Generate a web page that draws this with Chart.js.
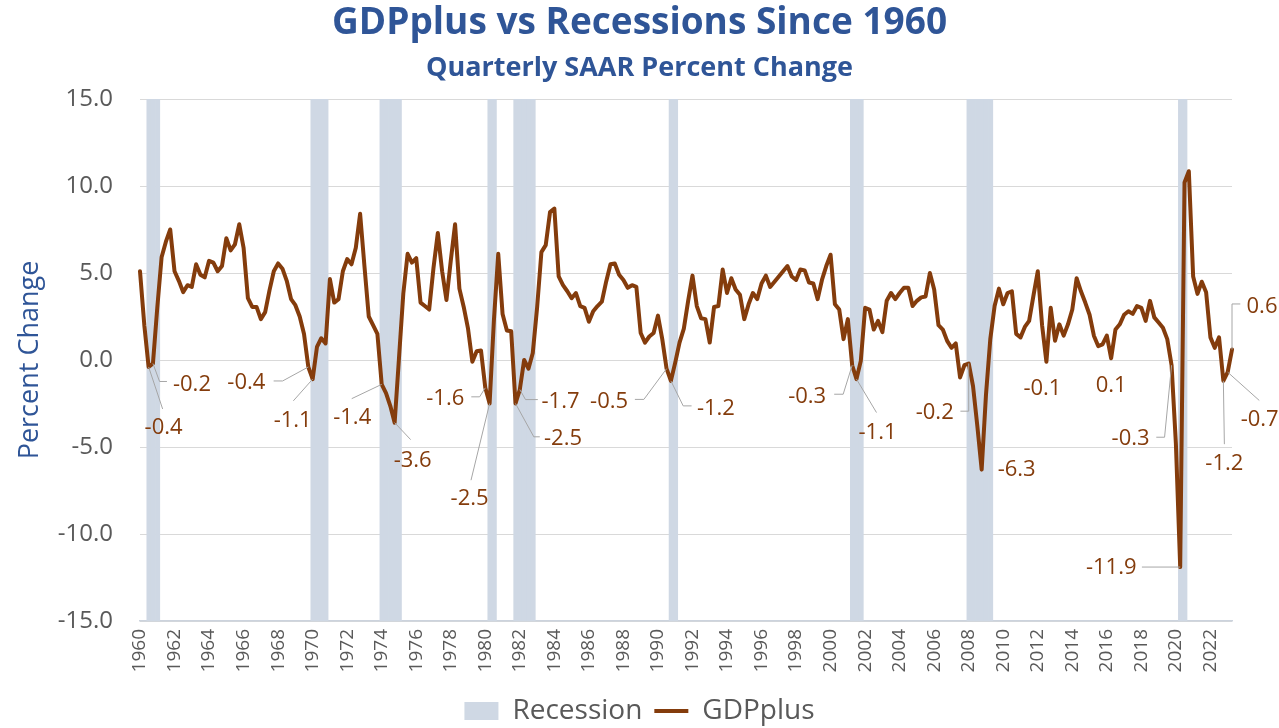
<!DOCTYPE html>
<html>
<head>
<meta charset="utf-8">
<title>GDPplus vs Recessions Since 1960</title>
<script src="https://cdn.jsdelivr.net/npm/chart.js@4.4.0/dist/chart.umd.min.js"></script>
<style>
  html, body { margin: 0; padding: 0; background: #fff; }
</style>
</head>
<body>
<canvas id="chart" width="1279" height="728"></canvas>
<script>
// 분기 라벨 (1960Q1 ~ 2023Q2)
const firstYear = 1960;
const quarterCount = 254;
const quarters = [];
for (let k = 0; k < quarterCount; k++) {
    quarters.push(`${firstYear + Math.floor(k / 4)}Q${k % 4 + 1}`);
}

// GDPplus 분기별 SAAR 변화율
const gdpplus = [
    5.1, 2.0, -0.4, -0.2, 3.0, 5.9, 6.8, 7.5, 5.1, 4.55,
    3.9, 4.3, 4.2, 5.5, 4.9, 4.75, 5.7, 5.6, 5.1, 5.4,
    7.0, 6.3, 6.65, 7.8, 6.45, 3.55, 3.05, 3.05, 2.35, 2.75,
    4.0, 5.1, 5.55, 5.25, 4.55, 3.5, 3.15, 2.5, 1.5, -0.4,
    -1.1, 0.75, 1.25, 0.95, 4.65, 3.3, 3.5, 5.1, 5.8, 5.5,
    6.45, 8.4, 5.4, 2.5, 2.0, 1.5, -1.4, -1.9, -2.65, -3.6,
    0.1, 3.8, 6.1, 5.6, 5.85, 3.3, 3.1, 2.9, 5.3, 7.3,
    5.1, 3.45, 5.7, 7.8, 4.1, 3.05, 1.8, -0.1, 0.5, 0.55,
    -1.6, -2.5, 2.3, 6.1, 2.65, 1.7, 1.65, -2.5, -1.7, 0.0,
    -0.5, 0.4, 3.0, 6.2, 6.6, 8.5, 8.7, 4.8, 4.3, 3.95,
    3.55, 3.85, 3.1, 3.0, 2.2, 2.8, 3.1, 3.35, 4.5, 5.5,
    5.55, 4.9, 4.6, 4.15, 4.3, 4.2, 1.55, 1.0, 1.35, 1.55,
    2.55, 1.2, -0.5, -1.2, -0.15, 1.0, 1.8, 3.4, 4.85, 3.1,
    2.4, 2.35, 1.0, 3.05, 3.1, 5.2, 3.85, 4.7, 4.05, 3.75,
    2.35, 3.2, 3.85, 3.5, 4.4, 4.85, 4.2, 4.5, 4.8, 5.1,
    5.4, 4.8, 4.6, 5.2, 5.15, 4.45, 4.4, 3.5, 4.6, 5.4,
    6.05, 3.2, 2.9, 1.2, 2.35, -0.3, -1.1, -0.05, 3.0, 2.9,
    1.75, 2.25, 1.6, 3.4, 3.85, 3.5, 3.85, 4.15, 4.15, 3.1,
    3.4, 3.6, 3.65, 5.0, 4.05, 2.0, 1.75, 1.1, 0.7, 0.95,
    -1.0, -0.3, -0.2, -1.5, -3.8, -6.3, -2.0, 1.2, 3.1, 4.1,
    3.2, 3.85, 3.95, 1.5, 1.3, 1.9, 2.25, 3.7, 5.1, 2.0,
    -0.1, 3.0, 1.1, 2.05, 1.4, 2.05, 2.9, 4.7, 3.95, 3.3,
    2.6, 1.4, 0.8, 0.9, 1.4, 0.1, 1.75, 2.05, 2.6, 2.8,
    2.65, 3.1, 3.0, 2.25, 3.4, 2.45, 2.15, 1.85, 1.2, -0.3,
    -4.8, -11.9, 10.2, 10.85, 4.8, 3.8, 4.5, 3.9, 1.3, 0.7,
    1.3, -1.2, -0.7, 0.6
];

// 경기침체 음영 구간 (시작 분기 ~ 끝 분기)
const recessionSpans = [
    ['1960Q2', '1961Q1'],
    ['1969Q4', '1970Q4'],
    ['1973Q4', '1975Q1'],
    ['1980Q1', '1980Q3'],
    ['1981Q3', '1982Q4'],
    ['1990Q3', '1991Q1'],
    ['2001Q1', '2001Q4'],
    ['2007Q4', '2009Q2'],
    ['2020Q1', '2020Q3']
];

// y축 눈금
const yTicks = [-15, -10, -5, 0, 5, 10, 15];

// 데이터 라벨 배치 (점 기준 픽셀 오프셋, 지시선 꺾임점)
const labelSpots = [
    { i: 2, tx: 15, ty: 61, lead: [[14, 42]] },
    { i: 3, tx: 39, ty: 21, lead: [[6.6, 18], [14, 18]] },
    { i: 39, tx: -62, ty: 16, lead: [[-25.7, 14], [-34.7, 14]] },
    { i: 40, tx: -20, ty: 42, lead: [[-19.3, 21.7]] },
    { i: 56, tx: -29.5, ty: 33, lead: [[-30, 14.3]] },
    { i: 59, tx: 18, ty: 38, lead: [[16, 17]] },
    { i: 80, tx: -40, ty: 11, lead: [[-5.7, 9], [-14, 9]] },
    { i: 81, tx: -20, ty: 95, lead: [[-18.6, 76.7]] },
    { i: 87, tx: 47.5, ty: 35, lead: [[18.3, 33.3], [24.3, 33.3]] },
    { i: 88, tx: 40.7, ty: 12, lead: [[5.7, 10], [18, 10]] },
    { i: 122, tx: -57.5, ty: 33, lead: [[-22.7, 30.7], [-31.7, 30.7]] },
    { i: 123, tx: 45, ty: 28, lead: [[12.3, 25], [20.7, 25]] },
    { i: 165, tx: -45, ty: 32, lead: [[-9, 29], [-18, 29]] },
    { i: 166, tx: 21, ty: 54, lead: [[20, 33.4]] },
    { i: 192, tx: -34, ty: 49, lead: [[0, 47.7], [-8.3, 47.7]] },
    { i: 195, tx: 35, ty: 0 },
    { i: 210, tx: -4, ty: 27 },
    { i: 225, tx: 0, ty: 27 },
    { i: 239, tx: -41, ty: 74, lead: [[-7, 72], [-15.3, 72]] },
    { i: 241, tx: -69, ty: 1, lead: [[-38.3, 0]] },
    { i: 251, tx: 1, ty: 83, lead: [[1, 63.3]] },
    { i: 252, tx: 32, ty: 48, lead: [[31.6, 28.3]] },
    { i: 253, tx: 30, ty: -43, lead: [[0, -45.6], [8.3, -45.6]] }
];

const FONT = "'Open Sans', sans-serif";
const BLUE = '#2F5597';
const GRAY_TEXT = '#595959';
const LINE_COLOR = '#843C0C';
const BAND_COLOR = '#CFD8E4';

let chart;

// 침체 구간을 분기 사이 막대로 변환
function buildRecessionBars() {
    return quarters.slice(0, -1).map((q, k) => {
        const inside = recessionSpans.some(([a, b]) =>
            k >= quarters.indexOf(a) && k < quarters.indexOf(b));
        return inside ? [yTicks[0], yTicks[yTicks.length - 1]] : null;
    });
}

// 데이터 라벨 + 지시선 플러그인
const dataLabelPlugin = {
    id: 'dataLabels',
    afterDatasetsDraw(c) {
        const meta = c.getDatasetMeta(0);
        const ctx = c.ctx;
        ctx.save();
        labelSpots.forEach(spot => {
            const pt = meta.data[spot.i];
            if (!pt) return;
            if (spot.lead) {
                ctx.beginPath();
                ctx.moveTo(pt.x, pt.y);
                spot.lead.forEach(([dx, dy]) => ctx.lineTo(pt.x + dx, pt.y + dy));
                ctx.strokeStyle = '#A6A6A6';
                ctx.lineWidth = 1;
                ctx.stroke();
            }
            ctx.font = `22px ${FONT}`;
            ctx.fillStyle = LINE_COLOR;
            ctx.textAlign = 'center';
            ctx.textBaseline = 'middle';
            ctx.fillText(gdpplus[spot.i].toFixed(1), pt.x + spot.tx, pt.y + spot.ty);
        });
        ctx.restore();
    }
};

// 차트 생성
function init() {
    Chart.defaults.font.family = FONT;
    const ctx = document.getElementById('chart').getContext('2d');

    chart = new Chart(ctx, {
        type: 'line',
        data: {
            labels: quarters,
            datasets: [
                {
                    type: 'line',
                    label: 'GDPplus',
                    data: gdpplus,
                    borderColor: LINE_COLOR,
                    backgroundColor: LINE_COLOR,
                    borderWidth: 4,
                    borderJoinStyle: 'round',
                    borderCapStyle: 'round',
                    pointRadius: 0,
                    pointHoverRadius: 0,
                    pointStyle: 'line',
                    tension: 0,
                    xAxisID: 'x',
                    yAxisID: 'y'
                },
                {
                    type: 'bar',
                    label: 'Recession',
                    data: buildRecessionBars(),
                    backgroundColor: BAND_COLOR,
                    borderColor: BAND_COLOR,
                    borderWidth: 0,
                    inflateAmount: 0,
                    barThickness: 5,
                    pointStyle: 'rect',
                    xAxisID: 'x2',
                    yAxisID: 'y'
                }
            ]
        },
        options: {
            responsive: false,
            animation: false,
            devicePixelRatio: 1,
            layout: { padding: { left: 0, right: 0, top: 0, bottom: -7 } },
            scales: {
                x: {
                    type: 'category',
                    offset: false,
                    grid: { display: false, drawTicks: false },
                    border: { display: true, color: '#CCD3DD', width: 1.5 },
                    ticks: {
                        autoSkip: false,
                        minRotation: 90,
                        maxRotation: 90,
                        padding: 8,
                        color: GRAY_TEXT,
                        font: { size: 19 },
                        callback: (value, index) => {
                            const q = quarters[index];
                            const yr = Number(q.slice(0, 4));
                            return q.endsWith('Q1') && yr % 2 === 0 ? String(yr) : '';
                        }
                    },
                    afterFit: (s) => { s.height = 64; }
                },
                x2: {
                    type: 'category',
                    labels: quarters.slice(0, -1),
                    offset: true,
                    display: false,
                    grid: { display: false }
                },
                y: {
                    min: yTicks[0],
                    max: yTicks[yTicks.length - 1],
                    afterBuildTicks: (s) => { s.ticks = yTicks.map(v => ({ value: v })); },
                    grid: { color: '#D9D9D9', lineWidth: 1, drawTicks: false },
                    border: { display: false },
                    ticks: {
                        padding: 27,
                        color: GRAY_TEXT,
                        font: { size: 24 },
                        callback: (v) => Number(v).toFixed(1)
                    },
                    title: {
                        display: true,
                        text: 'Percent Change',
                        color: BLUE,
                        font: { size: 27 },
                        padding: { top: 14, bottom: 0 }
                    },
                    afterFit: (s) => { s.width = 140; }
                },
                // 오른쪽 여백용 빈 축
                yRight: {
                    type: 'linear',
                    position: 'right',
                    grid: { display: false, drawTicks: false },
                    border: { display: false },
                    ticks: { display: false },
                    afterFit: (s) => { s.width = 47; }
                }
            },
            plugins: {
                title: {
                    display: true,
                    text: 'GDPplus vs Recessions Since 1960',
                    color: BLUE,
                    font: { size: 37, weight: 'bold' },
                    padding: { top: 1, bottom: 0 }
                },
                subtitle: {
                    display: true,
                    text: 'Quarterly SAAR Percent Change',
                    color: BLUE,
                    font: { size: 27, weight: 'bold' },
                    padding: { top: 6.4, bottom: 14.8 }
                },
                legend: {
                    position: 'bottom',
                    reverse: true,
                    labels: {
                        usePointStyle: true,
                        pointStyleWidth: 34,
                        boxHeight: 18,
                        padding: 12,
                        color: GRAY_TEXT,
                        font: { size: 28 }
                    }
                },
                tooltip: { enabled: false }
            }
        },
        plugins: [dataLabelPlugin]
    });
}

// 페이지 로드 시 초기화
document.addEventListener('DOMContentLoaded', init);
</script>
</body>
</html>
